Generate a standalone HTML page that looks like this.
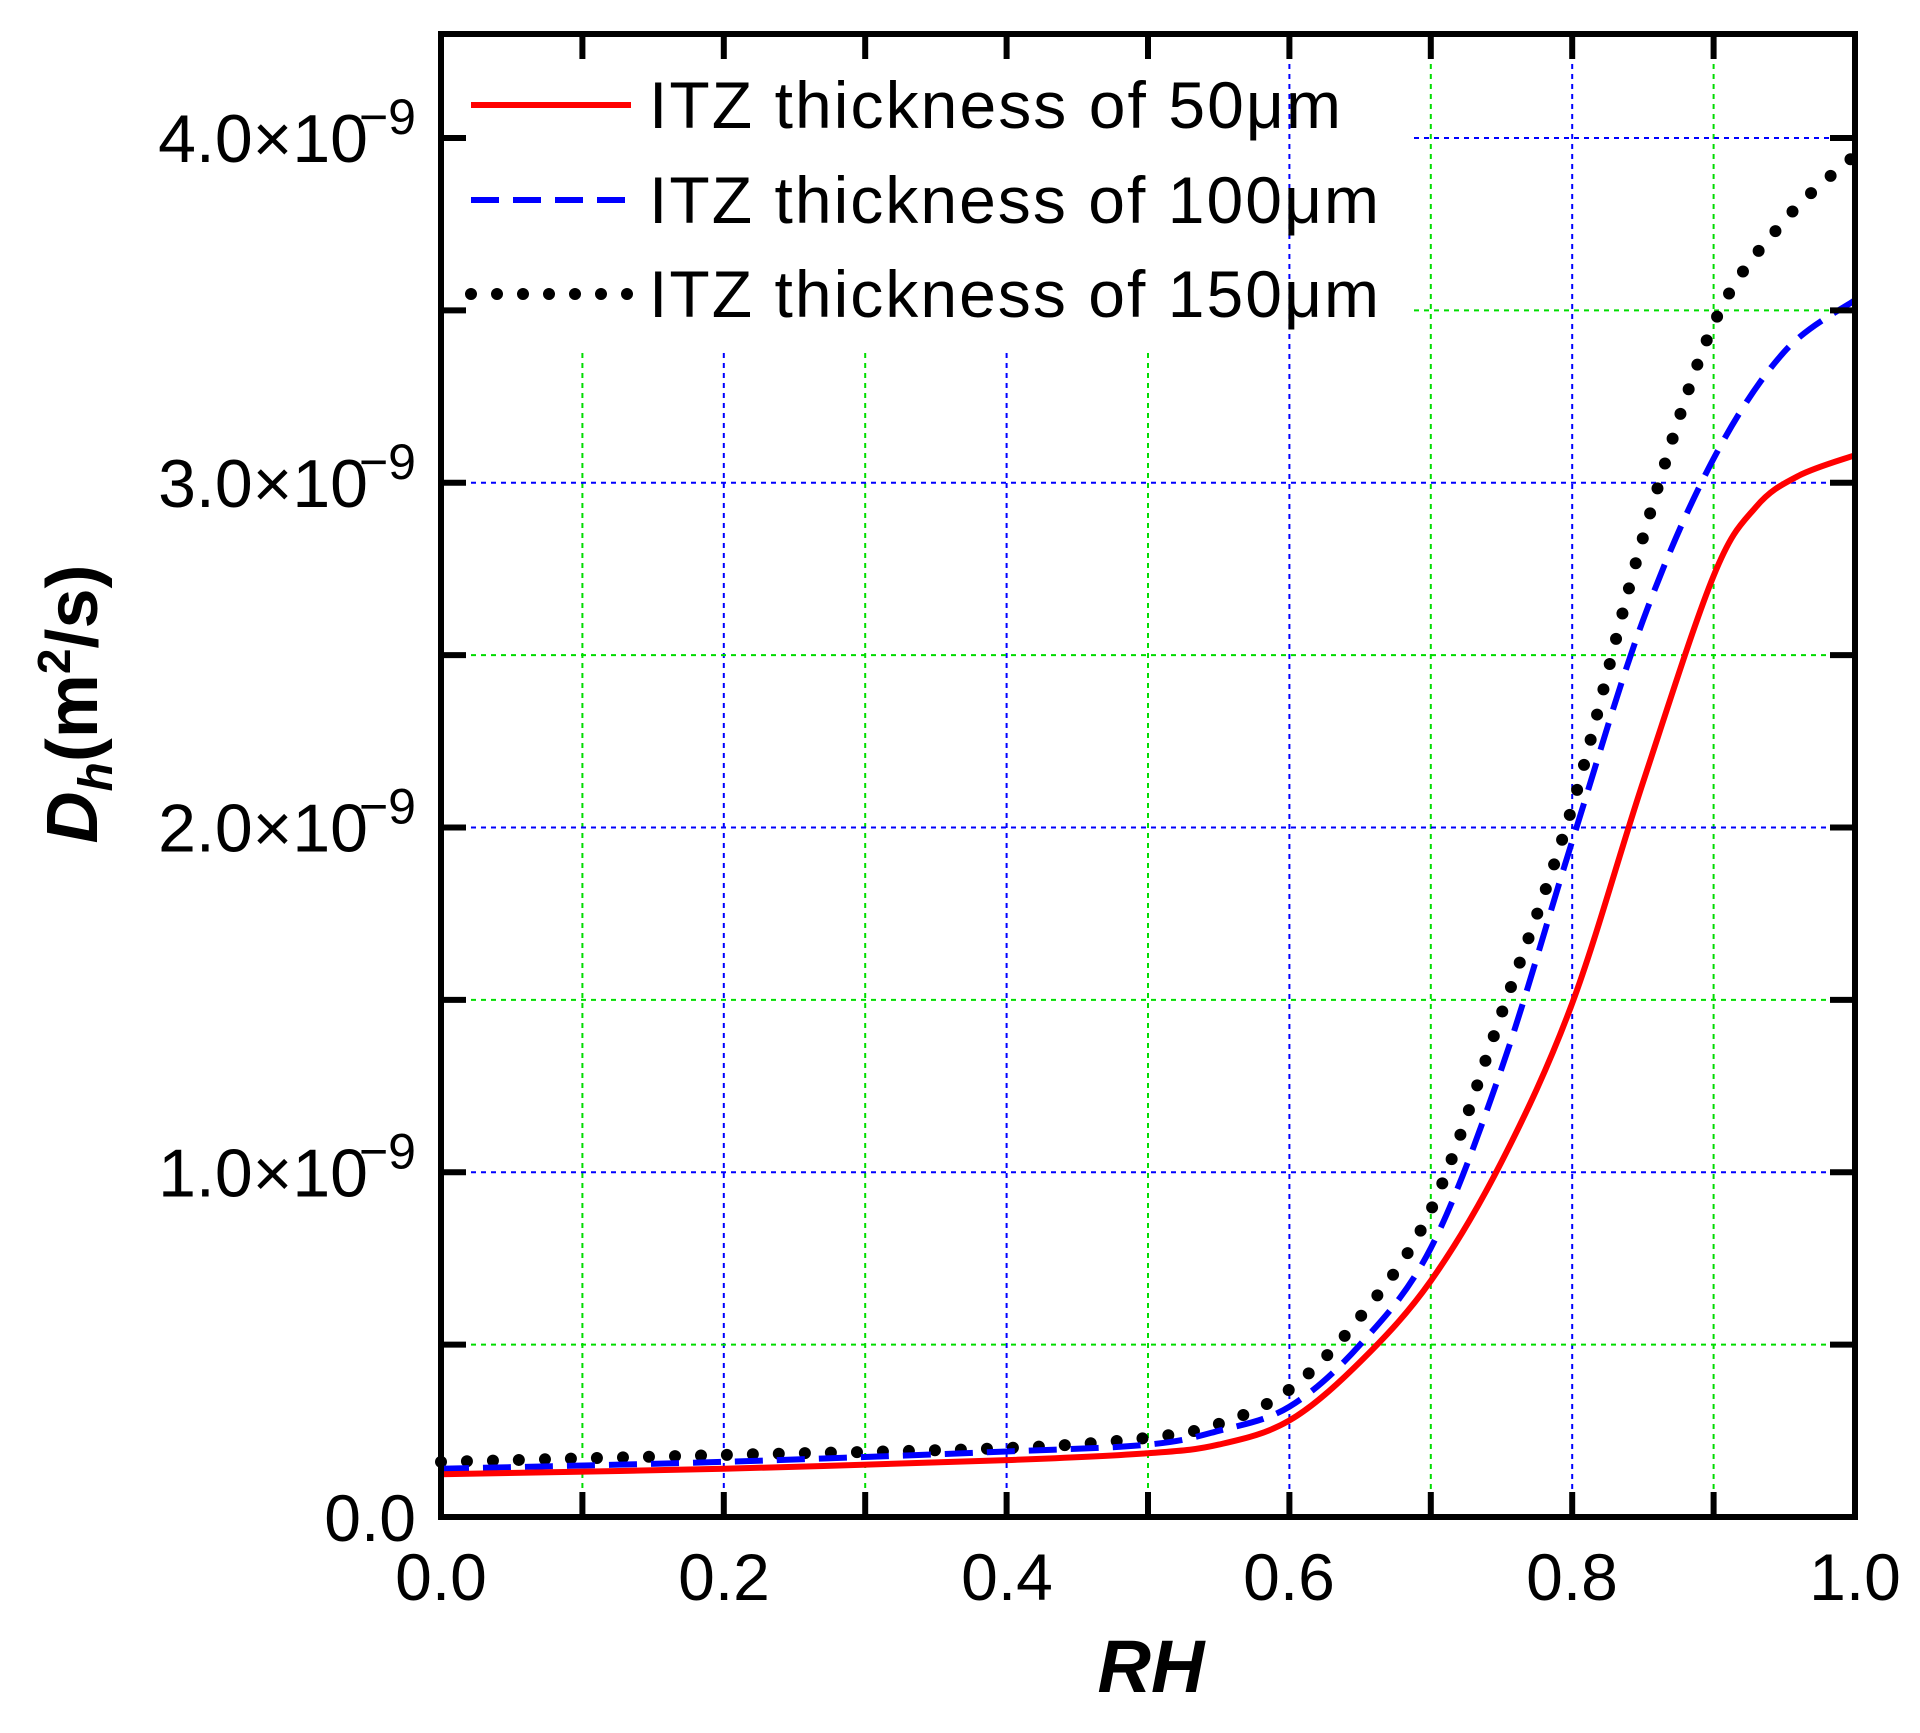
<!DOCTYPE html>
<html><head><meta charset="utf-8"><style>
html,body{margin:0;padding:0;background:#fff}
svg{display:block}
text{font-family:"Liberation Sans",Arial,sans-serif;fill:#000}
</style></head><body>
<svg id="s" width="1920" height="1733" viewBox="0 0 1920 1733" xmlns="http://www.w3.org/2000/svg">
<g id="grid"></g>
<g id="curves"></g>
<rect x="441" y="34" width="1414" height="1483" fill="none" stroke="#000" stroke-width="6"/>
<g id="ticks" stroke="#000" stroke-width="6"></g>
<g font-size="66" text-anchor="middle">
<text x="441" y="1600">0.0</text><text x="724" y="1600">0.2</text><text x="1007" y="1600">0.4</text>
<text x="1289" y="1600">0.6</text><text x="1572" y="1600">0.8</text><text x="1855" y="1600">1.0</text>
</g>
<g font-size="68" text-anchor="end" id="ylab"></g>
<text x="1151" y="1692" font-size="74" font-weight="bold" font-style="italic" text-anchor="middle">RH</text>
<text transform="translate(97,704) rotate(-90)" font-size="72" font-weight="bold" text-anchor="middle"><tspan font-style="italic">D</tspan><tspan font-style="italic" font-size="48" dy="15">h</tspan><tspan dy="-15">(m</tspan><tspan font-size="46" dy="-27">2</tspan><tspan dy="27">/s)</tspan></text>
<g>
<line x1="471" y1="105" x2="631" y2="105" stroke="#f00" stroke-width="6"/>
<line x1="471" y1="200" x2="631" y2="200" stroke="#00f" stroke-width="6" stroke-dasharray="28 14"/>
<line x1="471" y1="294" x2="631" y2="294" stroke="#000" stroke-width="12" stroke-linecap="round" stroke-dasharray="0 26"/>
<g font-size="66"><text x="649" y="128" textLength="692">ITZ thickness of 50μm</text>
<text x="649" y="223" textLength="730">ITZ thickness of 100μm</text>
<text x="649" y="317" textLength="730">ITZ thickness of 150μm</text></g>
</g>
</svg>
<script>
const X=v=>441+v*1414, Y=v=>1517-v*344.75;
const NS="http://www.w3.org/2000/svg";
function el(p,t,a){const e=document.createElementNS(NS,t);for(const k in a)e.setAttribute(k,a[k]);document.getElementById(p).appendChild(e);return e;}
for(let i=1;i<10;i++){const c=i%2?"#0d0":"#00f";const top=(i>=6)?34:353;
el("grid","line",{x1:X(i/10),x2:X(i/10),y1:top,y2:1517,stroke:c,"stroke-width":2,"stroke-dasharray":"5 5"});
el("ticks","line",{x1:X(i/10),x2:X(i/10),y1:1517,y2:1492});el("ticks","line",{x1:X(i/10),x2:X(i/10),y1:34,y2:59});}
for(let j=1;j<9;j++){const v=j/2;const c=j%2?"#0d0":"#00f";const left=(Y(v)<353)?1414:441;
el("grid","line",{x1:left,x2:1855,y1:Y(v),y2:Y(v),stroke:c,"stroke-width":2,"stroke-dasharray":"5 5"});
el("ticks","line",{x1:441,x2:466,y1:Y(v),y2:Y(v)});el("ticks","line",{x1:1855,x2:1830,y1:Y(v),y2:Y(v)});}
[1,2,3,4].forEach(v=>{el("ylab","text",{x:368,y:Y(v)+24}).textContent=v.toFixed(1)+"×10";
const t=el("ylab","text",{x:416,y:Y(v)-4,"font-size":50});t.textContent="−9";});
el("ylab","text",{x:416,y:Y(0)+24,"font-size":66}).textContent="0.0";
function path(pts){pts=pts.map(p=>[X(p[0]),Y(p[1])]);let d="M"+pts[0];
for(let i=0;i<pts.length-1;i++){const p0=pts[i-1]||pts[i],p1=pts[i],p2=pts[i+1],p3=pts[i+2]||p2;
const c1=[p1[0]+(p2[0]-p0[0])/6,p1[1]+(p2[1]-p0[1])/6],c2=[p2[0]-(p3[0]-p1[0])/6,p2[1]-(p3[1]-p1[1])/6];
d+=" C"+c1+" "+c2+" "+p2;}return d;}
const red=[[0,.124],[.2,.14],[.4,.165],[.5,.185],[.55,.21],[.6,.28],[.65,.45],[.7,.685],[.75,1.03],[.8,1.49],[.85,2.13],[.9,2.73],[.93,2.93],[.96,3.02],[1,3.08]];
const blue=[[0,.14],[.2,.16],[.4,.19],[.5,.21],[.55,.25],[.6,.32],[.65,.5],[.7,.78],[.75,1.3],[.8,1.96],[.85,2.6],[.9,3.07],[.95,3.38],[1,3.53]];
const blk=[[0,.16],[.2,.18],[.4,.2],[.5,.23],[.55,.27],[.6,.37],[.65,.58],[.7,.89],[.75,1.46],[.8,2.06],[.85,2.84],[.9,3.46],[.95,3.76],[1,3.95]];
el("curves","path",{d:path(blk),fill:"none",stroke:"#000","stroke-width":12,"stroke-linecap":"round","stroke-dasharray":"0 26"});
el("curves","path",{d:path(blue),fill:"none",stroke:"#00f","stroke-width":6,"stroke-dasharray":"28 14"});
el("curves","path",{d:path(red),fill:"none",stroke:"#f00","stroke-width":6});
</script>
</body></html>
